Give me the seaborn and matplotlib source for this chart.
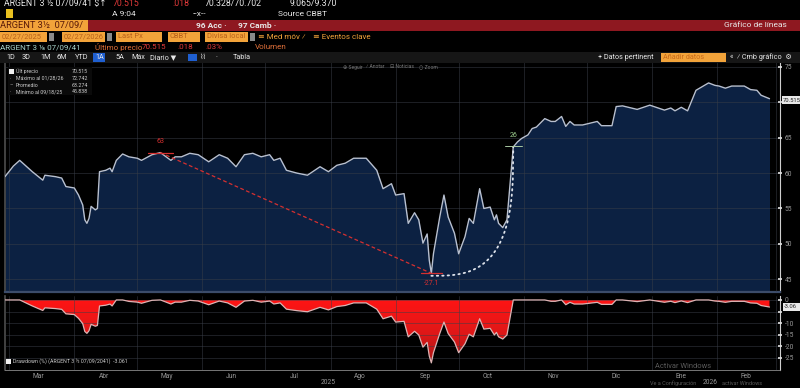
import matplotlib
matplotlib.use('Agg')
import matplotlib.pyplot as plt
import matplotlib.dates as mdates
from matplotlib.colors import LinearSegmentedColormap
from matplotlib.patches import Rectangle
import numpy as np
import pandas as pd
import seaborn as sns

# datos (precio de cierre, ARGENT 3 1/2 07/09/41)
dates = ['2025-02-27', '2025-03-03', '2025-03-06', '2025-03-12', '2025-03-17', '2025-03-18',
         '2025-03-23', '2025-03-26', '2025-03-28', '2025-04-01', '2025-04-03', '2025-04-05',
         '2025-04-06', '2025-04-07', '2025-04-08', '2025-04-09', '2025-04-11', '2025-04-12',
         '2025-04-13', '2025-04-16', '2025-04-18', '2025-04-19', '2025-04-21', '2025-04-24',
         '2025-04-27', '2025-05-01', '2025-05-03', '2025-05-08', '2025-05-12', '2025-05-17',
         '2025-05-19', '2025-05-22', '2025-05-26', '2025-05-30', '2025-06-04', '2025-06-09',
         '2025-06-13', '2025-06-17', '2025-06-21', '2025-06-25', '2025-06-29', '2025-07-03',
         '2025-07-05', '2025-07-08', '2025-07-11', '2025-07-16', '2025-07-21', '2025-07-27',
         '2025-07-31', '2025-08-04', '2025-08-08', '2025-08-12', '2025-08-18', '2025-08-23',
         '2025-08-26', '2025-08-30', '2025-09-01', '2025-09-05', '2025-09-07', '2025-09-10',
         '2025-09-12', '2025-09-14', '2025-09-16', '2025-09-17', '2025-09-18', '2025-09-19',
         '2025-09-22', '2025-09-24', '2025-09-26', '2025-09-29', '2025-10-01', '2025-10-04',
         '2025-10-06', '2025-10-08', '2025-10-11', '2025-10-13', '2025-10-16', '2025-10-18',
         '2025-10-19', '2025-10-20', '2025-10-22', '2025-10-24', '2025-10-27', '2025-10-29',
         '2025-10-31', '2025-11-03', '2025-11-05', '2025-11-07', '2025-11-11', '2025-11-14',
         '2025-11-16', '2025-11-19', '2025-11-21', '2025-11-23', '2025-11-25', '2025-11-29',
         '2025-12-06', '2025-12-08', '2025-12-13', '2025-12-15', '2025-12-18', '2025-12-25',
         '2025-12-31', '2026-01-07', '2026-01-10', '2026-01-12', '2026-01-15', '2026-01-18',
         '2026-01-22', '2026-01-28', '2026-01-31', '2026-02-02', '2026-02-05', '2026-02-08',
         '2026-02-14', '2026-02-17', '2026-02-20', '2026-02-22', '2026-02-26']
price = [59.5, 61.0, 61.8, 60.2, 59.0, 59.7,
         59.5, 59.3, 58.1, 57.9, 56.9, 55.5,
         53.4, 52.9, 53.6, 55.3, 54.8, 55.0,
         60.2, 60.4, 60.7, 60.2, 61.8, 62.7,
         62.3, 62.1, 61.8, 62.6, 62.9, 61.8,
         62.3, 62.3, 62.8, 62.6, 61.6, 62.6,
         62.1, 60.9, 62.6, 62.8, 62.3, 62.6,
         61.8, 62.1, 60.4, 60.0, 59.7, 60.9,
         60.2, 61.1, 61.4, 62.1, 62.1, 60.4,
         57.8, 58.5, 56.9, 57.1, 52.9, 54.4,
         53.4, 50.1, 51.4, 47.7, 45.838, 48.6,
         53.8, 56.9, 53.8, 51.5, 48.6, 51.0,
         53.6, 52.9, 57.8, 55.0, 55.2, 53.4,
         54.1, 52.9, 52.3, 53.4, 63.7, 64.4,
         64.9, 65.4, 66.3, 66.5, 67.7, 67.3,
         67.3, 68.0, 66.6, 67.3, 66.8, 66.8,
         67.3, 66.7, 66.7, 69.4, 69.5, 69.0,
         69.6, 68.9, 69.2, 68.8, 69.3, 68.8,
         71.7, 72.742, 72.4, 72.3, 72.0, 72.3,
         72.3, 71.8, 71.7, 71.0, 70.515]

month_names = ['Ene', 'Feb', 'Mar', 'Abr', 'May', 'Jun', 'Jul', 'Ago', 'Sep', 'Oct', 'Nov', 'Dic']
price_ticks = [45, 50, 55, 60, 65, 70, 75]
dd_ticks = [0, -5, -10, -15, -20, -25]
legend_rows = [('Últ precio', '70.515'), ('Máximo al 01/28/26', '72.742'),
               ('Promedio', '63.274'), ('Mínimo al 09/18/25', '45.838')]
last_label = '70.515'
dd_last_label = '-3.06'
dd_legend = 'Drawdown (%) (ARGENT 3 ½ 07/09/2041)  -3.061'
peak_label = '63'
trough_label = '-27.1'
recovery_label = '26'
range_start, range_end = '2025-02-27', '2026-03-03'

W, H = 800, 388
BG = '#000000'
NAVY = '#0c2142'
LINE = '#b8c0d0'
GRID = '#3a3f48'
TXT = '#9a9a9a'
ORANGE = '#f2a33a'

sns.set_theme(style='dark', rc={'axes.facecolor': BG, 'figure.facecolor': BG})
plt.rcParams['font.family'] = ['Roboto', 'DejaVu Sans']

df = pd.DataFrame({'fecha': pd.to_datetime(dates), 'precio': price})
df['drawdown'] = (df['precio'] / df['precio'].cummax() - 1) * 100


def fx(x):
    return x / W


def fy(y):
    return 1 - y / H


def txt(x, y, s, color='#e8e8e8', size=5.6, **kw):
    fig.text(fx(x), fy(y), s, color=color, fontsize=size, va='center', **kw)


def box(x0, y0, x1, y1, color, **kw):
    fig.add_artist(Rectangle((fx(x0), fy(y1)), fx(x1 - x0), (y1 - y0) / H,
                             transform=fig.transFigure, facecolor=color, edgecolor='none', **kw))


fig = plt.figure(figsize=(W / 100, H / 100), dpi=100)
fig.patch.set_facecolor(BG)

# ---- cabecera tipo terminal ----
txt(4, 4, 'ARGENT 3 ½ 07/09/41 $↑', size=6.3)
txt(113, 4, '70.515', color='#e23a3a', size=6.3)
txt(172, 4, '.018', color='#e23a3a', size=6.3)
txt(205, 4, '70.328/70.702', size=6.3)
txt(290, 4, '9.065/9.370', size=6.3)
box(6, 9, 13, 18, '#e8c020')
txt(112, 14, 'A 9:04', size=6.0)
txt(193, 14, '--x--', size=6.0)
txt(278, 14, 'Source CBBT', size=6.0)

box(0, 20, W, 30.5, '#8e1820')
box(0, 20, 88, 30.5, ORANGE)
txt(0, 25.3, 'ARGENT 3½  07/09/', color='#5a1a08', size=6.7)
txt(196, 25.3, '96 Acc ·', size=6.0, weight='bold')
txt(238, 25.3, '97 Camb ·', size=6.0, weight='bold')
txt(724, 25.3, 'Gráfico de líneas', size=6.0)

for x0, x1, s in [(0, 47, '02/27/2025'), (62, 105, '02/27/2026'), (116, 162, 'Last Px'),
                  (168, 200, 'CBBT'), (205, 248, 'Divisa local')]:
    box(x0, 32.5, x1, 41.5, ORANGE)
    txt(x0 + 2, 37, s, color='#b8601a', size=5.4)
for x0 in (49, 107, 250):
    box(x0, 33.5, x0 + 5, 40.5, '#8a8a8a')
txt(258, 37, '≡ Med móv ⁄', color=ORANGE, size=5.8)
txt(313, 37, '≡ Eventos clave', color=ORANGE, size=5.8)

txt(0, 47, 'ARGENT 3 ⅛ 07/09/41', color='#a8d4cc', size=5.8)
txt(95, 47, 'Último precio', color='#e0703a', size=5.8)
txt(142, 47, '70.515', color='#e23a3a', size=5.8)
txt(177, 47, '.018', color='#e23a3a', size=5.8)
txt(205, 47, '.03%', color='#e23a3a', size=5.8)
txt(255, 47, 'Volumen', color='#e0703a', size=5.8)

box(0, 52.5, W, 62.5, '#161616')
box(93, 53.5, 105, 61.5, '#1f5fd0')
box(188, 54, 197, 61, '#1f5fd0')
for x, s in [(6, '1D'), (22, '3D'), (40, '1M'), (57, '6M'), (75, 'YTD'), (95, '1A'), (115, '5A'),
             (131, 'Máx'), (150, 'Diario ▼'), (200, '⌇⌇'), (215, '·'), (233, 'Tabla')]:
    txt(x, 57.5, s, size=5.2)
txt(598, 57.5, '+ Datos pertinent', size=5.2)
box(661, 53.5, 726, 61.5, ORANGE)
txt(663, 57.5, 'Añadir datos', color='#c86a1a', size=5.2)
txt(730, 57.5, '«  ⁄ Cmb gráfico  ⚙', size=5.2)

# ---- panel de precio ----
x0n, x1n = mdates.date2num(pd.Timestamp(range_start)), mdates.date2num(pd.Timestamp(range_end))
ax = fig.add_axes([fx(5), fy(292), fx(775), 230 / H])
ax.set_facecolor(BG)
ylo, yhi = 43.2, 75.7
ax.fill_between(df['fecha'], df['precio'], ylo, color=NAVY, lw=0, zorder=1)
sns.lineplot(data=df, x='fecha', y='precio', ax=ax, color=LINE, lw=1.0, zorder=3)
ax.set_xlim(x0n, x1n)
ax.set_ylim(ylo, yhi)
ax.set_xlabel('')
ax.set_ylabel('')
ax.xaxis.set_major_locator(mdates.MonthLocator())
ax.xaxis.set_major_formatter(plt.NullFormatter())
ax.set_yticks(price_ticks)
# la etiqueta del ultimo precio tapa el 70
ax.set_yticklabels(['' if abs(t - float(last_label)) < 2 else str(t) for t in price_ticks])
ax.yaxis.tick_right()
ax.tick_params(axis='y', direction='inout', length=3, width=1.2, color='#e0e0e0',
               labelcolor=TXT, labelsize=4.8, pad=2)
ax.tick_params(axis='x', length=0)
ax.set_axisbelow(False)
ax.grid(True, color=GRID, lw=0.5, alpha=0.7)
ax.spines['top'].set_visible(False)
ax.spines['right'].set_color('#cfcfcf')
ax.spines['right'].set_linewidth(0.8)
ax.spines['left'].set_color('#4a4a4a')
ax.spines['bottom'].set_color('#3c4c6a')
ax.spines['bottom'].set_linewidth(1.6)

# anotaciones de caida y recuperacion
i_tr = int(df['precio'].idxmin())
i_pk = int(df['precio'][:i_tr].idxmax())
peak_val = df['precio'][i_pk]
i_rec = int(df.index[(df.index > i_tr) & (df['precio'] >= peak_val)][0])
t_pk, p_pk = mdates.date2num(df['fecha'][i_pk]), peak_val
t_tr, p_tr = mdates.date2num(df['fecha'][i_tr]), df['precio'][i_tr]
t_rc, p_rc = mdates.date2num(df['fecha'][i_rec]), df['precio'][i_rec]
red = '#d63030'
ax.plot([t_pk, t_tr], [p_pk, p_tr], color=red, lw=0.9, ls=(0, (3, 2)), zorder=4)
ax.plot([t_pk - 6, t_pk + 6], [p_pk, p_pk], color=red, lw=0.9, zorder=4)
ax.plot([t_tr - 5, t_tr + 5], [p_tr, p_tr], color=red, lw=0.9, zorder=4)
ax.text(t_pk, p_pk + 1.5, peak_label, color=red, fontsize=5.0, ha='center', va='center', zorder=5)
ax.text(t_tr, p_tr - 1.4, trough_label, color=red, fontsize=5.0, ha='center', va='center', zorder=5)
u = np.linspace(0, 1, 200)
cx = t_tr + (t_rc - t_tr) * u
cy = p_rc + ((p_tr - 0.35) - p_rc) * np.cbrt(1 - u ** 3)
ax.plot(cx, cy, color='#dde2ea', lw=1.3, ls=(0, (0.8, 2.2)), dash_capstyle='round', zorder=4)
ax.plot([t_rc - 4, t_rc + 4], [p_rc + 0.15, p_rc + 0.15], color='#a8c8a0', lw=0.7, zorder=4)
ax.text(t_rc, p_rc + 1.6, recovery_label, color='#9fd090', fontsize=5.0,
        ha='center', va='center', zorder=5)

# etiqueta del ultimo precio
box(782, 96, 800, 104, '#e8e8e8')
txt(783, 100, last_label, color='#202020', size=4.2)

# barra de herramientas del grafico
for x, s in [(343, '⊕ Seguir'), (366, '⁄ Anotar'), (390, '⊟ Noticias'), (419, '○ Zoom')]:
    txt(x, 67, s, color='#7a7a7a', size=3.6)

# leyenda superior izquierda
box(8, 67, 92, 95, '#0a0a0a')
box(9, 69, 14, 74, '#f0f0f0')
for k, (lab, val) in enumerate(legend_rows):
    yy = 71.5 + k * 6.8
    if k:
        txt(10, yy, '–' if k == 2 else '·', color='#bbbbbb', size=3.8)
    txt(16, yy, lab, color='#cfcfcf', size=3.8)
    txt(72, yy, val, color='#cfcfcf', size=3.8)

# ---- panel de drawdown ----
ax2 = fig.add_axes([fx(5), fy(370), fx(775), 74 / H])
ax2.set_facecolor(BG)
poly = ax2.fill_between(df['fecha'], df['drawdown'], 0, color='none', lw=0)
cmap = LinearSegmentedColormap.from_list('dd', ['#ff1414', '#e01818', '#a81616'])
grad = np.linspace(0, 1, 256).reshape(-1, 1)
im = ax2.imshow(grad, extent=[x0n, x1n, -28, 0], origin='upper', aspect='auto', cmap=cmap, zorder=1)
im.set_clip_path(poly.get_paths()[0], transform=ax2.transData)
sns.lineplot(data=df, x='fecha', y='drawdown', ax=ax2, color='#dcb4b4', lw=0.9, zorder=3)
ax2.set_xlim(x0n, x1n)
ax2.set_ylim(-30.2, 1.7)
ax2.set_xlabel('')
ax2.set_ylabel('')
ax2.set_yticks(dd_ticks)
# la etiqueta del ultimo drawdown tapa el -5
ax2.set_yticklabels(['' if abs(t - float(dd_last_label)) < 3 else str(t) for t in dd_ticks])
ax2.yaxis.tick_right()
ax2.tick_params(axis='y', direction='inout', length=3, width=1.2, color='#e0e0e0',
                labelcolor=TXT, labelsize=4.8, pad=2)
ax2.xaxis.set_major_locator(mdates.MonthLocator())
ax2.xaxis.set_major_formatter(plt.NullFormatter())
ax2.xaxis.set_minor_locator(mdates.MonthLocator(bymonthday=15))
ax2.xaxis.set_minor_formatter(plt.FuncFormatter(lambda v, p: month_names[mdates.num2date(v).month - 1]))
ax2.tick_params(axis='x', which='both', length=0, labelcolor=TXT, labelsize=4.8, pad=2.5)
ax2.set_axisbelow(False)
ax2.grid(True, which='major', color=GRID, lw=0.5, alpha=0.7)
ax2.spines['top'].set_visible(False)
ax2.spines['right'].set_color('#cfcfcf')
ax2.spines['right'].set_linewidth(0.8)
ax2.spines['left'].set_color('#4a4a4a')
ax2.spines['bottom'].set_color('#8a8a8a')
ax2.spines['bottom'].set_linewidth(0.6)

# anios bajo el eje
t_y26 = mdates.date2num(pd.Timestamp('2026-01-01'))
t_end = mdates.date2num(df['fecha'].iloc[-1])
for xm, s in [((x0n + t_y26) / 2, '2025'), ((t_y26 + t_end) / 2, '2026')]:
    ax2.text(xm, -0.17, s, transform=ax2.get_xaxis_transform(), color=TXT, fontsize=4.8,
             ha='center', va='center')

box(783, 303, 800, 311, '#e8e8e8')
txt(784, 307, dd_last_label, color='#202020', size=4.2)
box(6, 359, 11, 364, '#f0f0f0')
txt(13, 361.5, dd_legend, color='#cfcfcf', size=3.8)

# marca de agua de Windows
txt(655, 366.5, 'Activar Windows', color='#5a5a5a', size=5.4)
txt(650, 383.5, 'Ve a Configuración', color='#5a5a5a', size=4.0)
txt(722, 383.5, 'activar Windows', color='#5a5a5a', size=4.0)

fig.savefig('out.png', dpi=100, facecolor=BG)
